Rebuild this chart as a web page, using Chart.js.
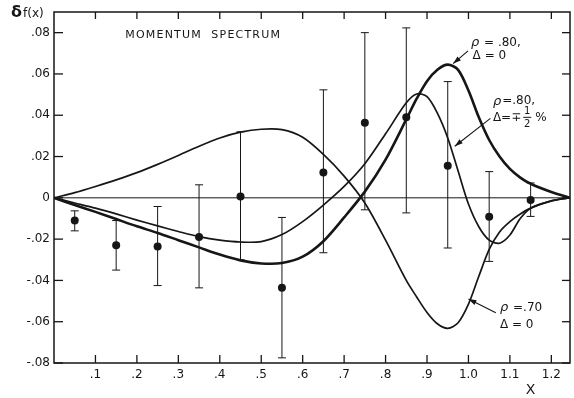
<!DOCTYPE html>
<html><head><meta charset="utf-8">
<script src="https://cdn.jsdelivr.net/npm/chart.js@4.4.0/dist/chart.umd.min.js"></script>
<style>html,body{margin:0;padding:0;background:#fff}</style>
</head><body>
<canvas id="c" width="574" height="398"></canvas>
<script>
// ---- tick values and labels ----
const xTicks = [0.1,0.2,0.3,0.4,0.5,0.6,0.7,0.8,0.9,1.0,1.1,1.2];
const xTickLabels = ['.1','.2','.3','.4','.5','.6','.7','.8','.9','1.0','1.1','1.2'];
const yTicks = [-0.08,-0.06,-0.04,-0.02,0,0.02,0.04,0.06,0.08];
const yTickLabels = ['-.08','-.06','-.04','-.02','0','.02','.04','.06','.08'];

// ---- theory curves ----
const curveX = [0,0.05,0.1,0.15,0.2,0.25,0.3,0.35,0.4,0.45,0.5,0.55,0.6,0.65,0.7,0.75,0.8,0.85,
                0.875,0.9,0.925,0.95,0.975,1.0,1.025,1.05,1.075,1.1,1.125,1.15,1.2,1.245];
// rho = .80, Delta = 0
const rho80d0 = [0,-0.0035,-0.0068,-0.0103,-0.0138,-0.017,-0.0205,-0.024,-0.0275,-0.0303,-0.0318,-0.0316,-0.0285,-0.021,-0.0095,0.003,0.0185,0.038,
                 0.048,0.0565,0.062,0.0645,0.062,0.052,0.039,0.028,0.020,0.014,0.0098,0.0068,0.0028,0];
// rho = .80, Delta = -+ 1/2 %
const rho80dHalf = [0,-0.0025,-0.005,-0.0078,-0.0108,-0.0136,-0.0163,-0.0188,-0.0205,-0.0214,-0.0212,-0.0178,-0.0115,-0.0035,0.0055,0.0165,0.031,0.046,
                    0.0503,0.049,0.041,0.029,0.013,-0.003,-0.014,-0.0205,-0.022,-0.018,-0.010,-0.005,-0.0015,0];
// rho = .70, Delta = 0
const rho70d0 = [0,0.0025,0.0055,0.0087,0.0122,0.0162,0.0205,0.025,0.029,0.0318,0.0332,0.033,0.0293,0.021,0.0105,-0.0025,-0.0205,-0.040,
                 -0.048,-0.0555,-0.061,-0.0632,-0.0605,-0.0515,-0.038,-0.025,-0.0165,-0.0115,-0.0078,-0.005,-0.0015,0];

// ---- measured points with error bars ----
const ptX = [0.05,0.15,0.25,0.35,0.45,0.55,0.65,0.75,0.85,0.95,1.05,1.15];
const ptY = [-0.011,-0.023,-0.0236,-0.019,0.0006,-0.0436,0.0123,0.0363,0.039,0.0155,-0.0092,-0.001];
const errHi = [-0.0063,-0.011,-0.0042,0.0063,0.032,-0.0095,0.0523,0.080,0.0823,0.0563,0.0127,0.0072];
const errLo = [-0.016,-0.035,-0.0425,-0.0436,-0.030,-0.0775,-0.0266,-0.0058,-0.0073,-0.0243,-0.0308,-0.009];

const INK = '#161616';
const FONT = "'DejaVu Sans', sans-serif";

function seg(ctx,x1,y1,x2,y2){ctx.beginPath();ctx.moveTo(x1,y1);ctx.lineTo(x2,y2);ctx.stroke();}
function arrow(ctx,x1,y1,x2,y2){
  seg(ctx,x1,y1,x2,y2);
  const ang=Math.atan2(y2-y1,x2-x1), L=8, W=2.6;
  ctx.beginPath();
  ctx.moveTo(x2,y2);
  ctx.lineTo(x2-L*Math.cos(ang)+W*Math.sin(ang), y2-L*Math.sin(ang)-W*Math.cos(ang));
  ctx.lineTo(x2-L*Math.cos(ang)-W*Math.sin(ang), y2-L*Math.sin(ang)+W*Math.cos(ang));
  ctx.closePath(); ctx.fill();
}
// draws "ρ" in italic followed by upright rest
function rhoText(ctx, rest, px, py){
  ctx.font = "italic 13px " + FONT;
  ctx.fillText('ρ', px, py);
  const w = ctx.measureText('ρ').width;
  ctx.font = "12px " + FONT;
  ctx.fillText(rest, px + w + 1, py);
}

const underlay = {
  id:'underlay',
  beforeDatasetsDraw(chart){
    const {ctx, chartArea:a, scales:{x,y}} = chart;
    ctx.save();
    ctx.strokeStyle = INK;
    ctx.lineWidth = 1;
    const y0 = y.getPixelForValue(0);
    seg(ctx,a.left,y0,a.right,y0);
    ptX.forEach((v,i)=>{
      const px = x.getPixelForValue(v);
      const t = y.getPixelForValue(errHi[i]), b = y.getPixelForValue(errLo[i]);
      seg(ctx,px,t,px,b);
      seg(ctx,px-4,t,px+4,t);
      seg(ctx,px-4,b,px+4,b);
    });
    ctx.restore();
  }
};

const frame = {
  id:'frame',
  afterDraw(chart){
    const {ctx, chartArea:a, scales:{x,y}} = chart;
    ctx.save();
    ctx.strokeStyle = INK; ctx.fillStyle = INK;
    ctx.lineWidth = 1.5;
    ctx.strokeRect(a.left,a.top,a.right-a.left,a.bottom-a.top);
    ctx.lineWidth = 1.3;
    xTicks.forEach(v=>{
      const px = x.getPixelForValue(v);
      seg(ctx,px,a.bottom,px,a.bottom-8);
      seg(ctx,px,a.top,px,a.top+7);
    });
    yTicks.forEach(v=>{
      const py = y.getPixelForValue(v);
      seg(ctx,a.left,py,a.left+9,py);
      seg(ctx,a.right,py,a.right-8,py);
    });

    // axis titles
    ctx.textBaseline = 'middle';
    ctx.textAlign = 'left';
    ctx.font = "bold 16px " + FONT;
    ctx.fillText('δ', 11, a.top + 1);
    ctx.font = "12px " + FONT;
    ctx.fillText('f(x)', 23, a.top + 2);
    ctx.font = "14px " + FONT;
    ctx.textAlign = 'center';
    ctx.fillText('X', x.getPixelForValue(1.15), a.bottom + 27);

    // title inside plot
    ctx.textAlign = 'left';
    ctx.font = "11px " + FONT;
    try { ctx.letterSpacing = '1.2px'; } catch(e){}
    ctx.fillText('MOMENTUM  SPECTRUM', x.getPixelForValue(0.172), y.getPixelForValue(0.0787));
    try { ctx.letterSpacing = '0px'; } catch(e){}

    // curve labels
    rhoText(ctx, ' = .80,', x.getPixelForValue(1.006), y.getPixelForValue(0.0752));
    ctx.font = "12px " + FONT;
    ctx.fillText('Δ = 0', x.getPixelForValue(1.010), y.getPixelForValue(0.0688));
    ctx.lineWidth = 1.1;
    arrow(ctx, x.getPixelForValue(0.999), y.getPixelForValue(0.0712), x.getPixelForValue(0.963), y.getPixelForValue(0.0650));

    const l2x = x.getPixelForValue(1.059);
    rhoText(ctx, '=.80,', l2x, y.getPixelForValue(0.0468));
    const dy = y.getPixelForValue(0.0385);
    ctx.font = "12px " + FONT;
    ctx.fillText('Δ=∓', l2x, dy);
    let fx = l2x + ctx.measureText('Δ=∓').width + 3;
    ctx.font = "10px " + FONT;
    ctx.textAlign = 'center';
    ctx.fillText('1', fx + 3, dy - 7);
    ctx.fillText('2', fx + 3, dy + 6);
    ctx.lineWidth = 1;
    seg(ctx, fx - 1, dy - 1, fx + 7, dy - 1);
    ctx.textAlign = 'left';
    ctx.font = "12px " + FONT;
    ctx.fillText('%', fx + 11, dy);
    ctx.lineWidth = 1.1;
    arrow(ctx, x.getPixelForValue(1.053), y.getPixelForValue(0.0385), x.getPixelForValue(0.967), y.getPixelForValue(0.0250));

    rhoText(ctx, ' =.70', x.getPixelForValue(1.076), y.getPixelForValue(-0.0533));
    ctx.font = "12px " + FONT;
    ctx.fillText('Δ = 0', x.getPixelForValue(1.076), y.getPixelForValue(-0.0615));
    arrow(ctx, x.getPixelForValue(1.066), y.getPixelForValue(-0.0557), x.getPixelForValue(1.000), y.getPixelForValue(-0.0490));
    ctx.restore();
  }
};

const curve = (ys, w) => ({
  type:'scatter',
  data: curveX.map((v,i)=>({x:v, y:ys[i]})),
  showLine:true, borderColor:INK, borderWidth:w, pointRadius:0,
  tension:0.3, fill:false, order:2
});

new Chart(document.getElementById('c'), {
  type:'scatter',
  data:{
    datasets:[
      curve(rho80d0, 2.6),
      curve(rho80dHalf, 1.7),
      curve(rho70d0, 1.7),
      { type:'scatter', data: ptX.map((v,i)=>({x:v,y:ptY[i]})), pointRadius:4, pointBackgroundColor:INK, pointBorderWidth:0, showLine:false, order:1 }
    ]
  },
  options:{
    responsive:false, animation:false, devicePixelRatio:1,
    layout:{padding:{left:0,right:2,top:12,bottom:0}},
    plugins:{legend:{display:false}, tooltip:{enabled:false}},
    scales:{
      x:{
        type:'linear', min:0, max:1.245,
        afterBuildTicks:s=>{ s.ticks = xTicks.map(v=>({value:v})); },
        afterFit:s=>{ s.height = 35; },
        grid:{display:false, drawTicks:false}, border:{display:false},
        ticks:{padding:5, autoSkip:false, maxRotation:0, color:INK, font:{family:FONT, size:12},
          callback:(v)=>xTickLabels[xTicks.findIndex(t=>Math.abs(t-v)<1e-9)]}
      },
      y:{
        type:'linear', min:-0.08, max:0.09,
        afterBuildTicks:s=>{ s.ticks = yTicks.map(v=>({value:v})); },
        afterFit:s=>{ s.width = 54; },
        grid:{display:false, drawTicks:false}, border:{display:false},
        ticks:{padding:4, autoSkip:false, color:INK, font:{family:FONT, size:12},
          callback:(v)=>yTickLabels[yTicks.findIndex(t=>Math.abs(t-v)<1e-9)]}
      }
    }
  },
  plugins:[underlay, frame]
});
</script>
</body></html>
